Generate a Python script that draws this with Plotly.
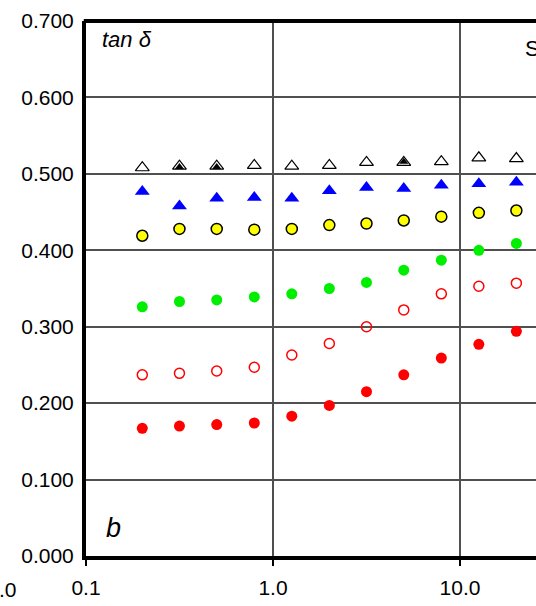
import plotly.graph_objects as go

# frequency grid (log-spaced, 5 points per decade)
freq = [0.2, 0.316, 0.5, 0.794, 1.26, 2.0, 3.16, 5.0, 7.94, 12.6, 20.0]

tri_open = [0.508, 0.510, 0.510, 0.511, 0.510, 0.511, 0.515, 0.515, 0.516, 0.521, 0.520]
tri_black_x = [0.316, 0.5, 5.0]
tri_black = [0.509, 0.509, 0.516]
tri_blue = [0.477, 0.458, 0.468, 0.469, 0.468, 0.478, 0.482, 0.481, 0.485, 0.487, 0.489]
circ_yellow = [0.419, 0.428, 0.428, 0.427, 0.428, 0.433, 0.435, 0.439, 0.444, 0.449, 0.452]
circ_green = [0.326, 0.333, 0.335, 0.339, 0.343, 0.350, 0.358, 0.374, 0.387, 0.400, 0.409]
circ_red_open = [0.237, 0.239, 0.242, 0.247, 0.263, 0.278, 0.300, 0.322, 0.343, 0.353, 0.357]
circ_red = [0.167, 0.170, 0.172, 0.174, 0.183, 0.197, 0.215, 0.237, 0.259, 0.277, 0.294]

y_ticks = [0.0, 0.1, 0.2, 0.3, 0.4, 0.5, 0.6, 0.7]
x_ticks = [0.1, 1.0, 10.0]
x_tick_text = ["0.1", "1.0", "10.0"]

FONT = "Arial, 'Liberation Sans', sans-serif"

fig = go.Figure()


def add(x, y, symbol, size, fill, line_color, line_width):
    fig.add_trace(go.Scatter(
        x=x, y=y, mode="markers", showlegend=False, cliponaxis=False,
        marker=dict(symbol=symbol, size=size, color=fill,
                    line=dict(color=line_color, width=line_width)),
    ))


add(freq, circ_red, "circle", 11, "#ff0000", "#ff0000", 0)
add(freq, circ_red_open, "circle-open", 10, "#ff0000", "#ff0000", 1.5)
add(freq, circ_green, "circle", 11, "#00ee00", "#00ee00", 0)
add(freq, circ_yellow, "circle", 11, "#ffff00", "#000000", 1.5)
add(freq, tri_blue, "triangle-up", 13, "#0000ff", "#0000ff", 0)
add(freq, tri_open, "triangle-up-open", 12, "#000000", "#000000", 1.2)
add(tri_black_x, tri_black, "triangle-up", 8, "#000000", "#000000", 0)

fig.update_layout(
    width=536, height=606,
    margin=dict(l=86, r=0, t=21, b=50),
    paper_bgcolor="white", plot_bgcolor="white",
    font=dict(family=FONT, size=21, color="black"),
    xaxis=dict(
        type="log", range=[-1, 1.406],
        tickvals=x_ticks, ticktext=x_tick_text,
        showgrid=True, gridcolor="#505050", gridwidth=1.5,
        showline=True, linecolor="black", linewidth=4,
        ticks="outside", ticklen=6, tickwidth=1.5, tickcolor="black",
        ticklabelstandoff=4, zeroline=False,
    ),
    yaxis=dict(
        range=[0, 0.7], tickvals=y_ticks, tickformat=".3f",
        showgrid=True, gridcolor="#505050", gridwidth=1.5,
        showline=True, linecolor="black", linewidth=4,
        ticks="", ticklabelstandoff=4, zeroline=False,
    ),
    shapes=[dict(type="line", xref="paper", yref="paper",
                 x0=-0.005, x1=1, y0=1, y1=1,
                 line=dict(color="black", width=4))],
    annotations=[
        dict(text="<i>tan δ</i>", xref="paper", yref="paper", x=0.03, y=0.993,
             xanchor="left", yanchor="top", showarrow=False,
             font=dict(size=22)),
        dict(text="<i>b</i>", xref="paper", yref="paper", x=0.04, y=0.02,
             xanchor="left", yanchor="bottom", showarrow=False,
             font=dict(size=27)),
        dict(text="S", xref="paper", yref="paper", x=0.97, y=0.975,
             xanchor="left", yanchor="top", showarrow=False,
             font=dict(size=22)),
        dict(text="100.0", xref="paper", yref="paper", x=-0.149, y=-0.038,
             xanchor="right", yanchor="top", showarrow=False,
             font=dict(size=21)),
    ],
)

fig.write_html("out.html")
